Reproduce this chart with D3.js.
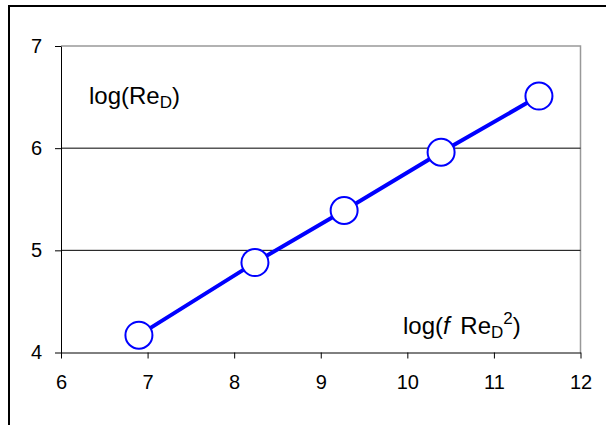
<!DOCTYPE html>
<html>
<head>
<meta charset="utf-8">
<script src="https://cdn.jsdelivr.net/npm/d3@7"></script>
<style>
  body { margin: 0; background: #fff; }
  text { font-family: "Liberation Sans", Arial, sans-serif; fill: #000; }
</style>
</head>
<body>
<div id="app"></div>
<script>

//
// Data
//

const logFRe2 = [6.90, 8.24, 9.27, 10.39, 11.52]
const logRe = [4.17, 4.88, 5.39, 5.96, 6.51]
const xTicks = [6, 7, 8, 9, 10, 11, 12]
const yTicks = [4, 5, 6, 7]
const gridValues = [5, 6]


//
// Constants
//

const width = 606
const height = 425
const blue = '#0000ff'

const x = d3.scaleLinear().domain([6, 12]).range([61, 580.5])
const y = d3.scaleLinear().domain([4, 7]).range([352.5, 46])

const points = logFRe2.map((v, i) => ({ x: v, y: logRe[i] }))


//
// Chart
//

const svg = d3.select('#app').append('svg')
  .attr('width', width)
  .attr('height', height)

svg.append('rect').attr('width', width).attr('height', height).attr('fill', '#fff')

// outer frame, only the left and top edges show
svg.append('path')
  .attr('d', `M 9,${height} L 9,6 L ${width},6`)
  .attr('fill', 'none')
  .attr('stroke', '#000')
  .attr('stroke-width', 2)

// plot area border (gray top and right)
svg.append('path')
  .attr('d', `M ${x(6)},${y(7)} L ${x(12)},${y(7)} L ${x(12)},${y(4)}`)
  .attr('fill', 'none')
  .attr('stroke', '#999')
  .attr('stroke-width', 1.5)

// horizontal gridlines
svg.append('g')
  .selectAll('line').data(gridValues)
  .join('line')
  .attr('x1', x(6))
  .attr('x2', x(12))
  .attr('y1', d => y(d))
  .attr('y2', d => y(d))
  .attr('stroke', '#000')
  .attr('stroke-width', 1)

// axes
const xAxis = svg.append('g')
  .attr('transform', `translate(0,${y(4)})`)
  .call(d3.axisBottom(x).tickValues(xTicks).tickFormat(d3.format('d'))
    .tickSize(6).tickSizeOuter(0).tickPadding(16))

const yAxis = svg.append('g')
  .attr('transform', `translate(${x(6)},0)`)
  .call(d3.axisLeft(y).tickValues(yTicks).tickFormat(d3.format('d'))
    .tickSize(6).tickSizeOuter(0).tickPadding(13))

;[xAxis, yAxis].forEach(a => {
  a.attr('font-size', 20).attr('font-family', '"Liberation Sans", Arial, sans-serif')
  a.select('.domain').attr('stroke', '#000').attr('stroke-width', 1)
  a.selectAll('.tick line').attr('stroke', '#000')
  a.selectAll('.tick text').attr('fill', '#000')
})

// series line
svg.append('path')
  .datum(points)
  .attr('fill', 'none')
  .attr('stroke', blue)
  .attr('stroke-width', 4)
  .attr('d', d3.line().x(d => x(d.x)).y(d => y(d.y)))

// markers
svg.append('g')
  .selectAll('circle').data(points)
  .join('circle')
  .attr('cx', d => x(d.x))
  .attr('cy', d => y(d.y))
  .attr('r', 13.5)
  .attr('fill', '#fff')
  .attr('stroke', blue)
  .attr('stroke-width', 2)

// axis annotations inside the plot
const yLabel = svg.append('text')
  .attr('x', 89)
  .attr('y', 103.5)
  .attr('font-size', 24)
yLabel.append('tspan').text('log(Re')
yLabel.append('tspan').attr('font-size', 17).attr('dy', 4).text('D')
yLabel.append('tspan').attr('dy', -4).text(')')

const xLabel = svg.append('text')
  .attr('x', 403)
  .attr('y', 334)
  .attr('font-size', 24)
xLabel.append('tspan').text('log(')
xLabel.append('tspan').attr('font-style', 'italic').text('f')
xLabel.append('tspan').attr('dx', 4).text('\u00a0Re')
xLabel.append('tspan').attr('font-size', 17).attr('dy', 4).text('D')
xLabel.append('tspan').attr('font-size', 17).attr('dy', -14).text('2')
xLabel.append('tspan').attr('dy', 10).text(')')

</script>
</body>
</html>
